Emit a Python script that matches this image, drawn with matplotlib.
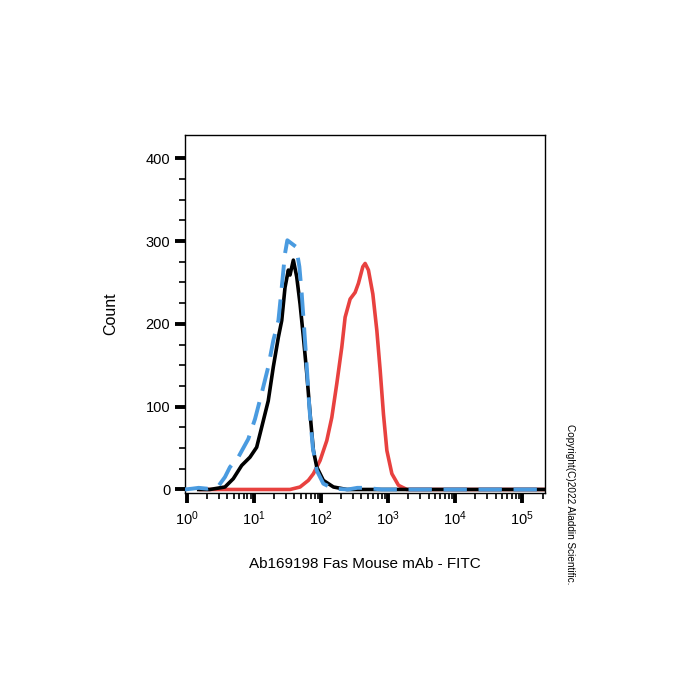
import numpy as np
import matplotlib.pyplot as plt
from matplotlib.ticker import FixedLocator, LogLocator, NullFormatter

plt.rcParams['font.family'] = ['Liberation Sans', 'DejaVu Sans']
plt.rcParams['mathtext.fontset'] = 'custom'
plt.rcParams['mathtext.rm'] = 'Liberation Sans'

# black solid histogram (isotype / unstained)
black_x = [1.5, 2.2, 3.69, 4.91, 6.55, 8.71, 10.96, 13.0, 16.3, 19.4, 23.1, 25.9, 29.0,
           32.5, 34.4, 38.6, 43.3, 48.6, 54.5, 61.2, 68.6, 76.8, 86.3, 108, 153, 242, 2.2e5]
black_y = [0, 0, 3, 13, 29, 39, 51, 75, 107, 148, 184, 204, 244,
           265, 259, 277, 257, 224, 184, 140, 91, 47, 27, 11, 3, 0, 0]

# blue dashed histogram
blue_x = [0.93, 1.2, 1.5, 2.0, 3.0, 3.69, 4.38, 5.83, 8.22, 10.35, 13.0, 16.3, 19.4, 23.1, 25.9,
          29.0, 31.4, 36.5, 42.4, 47.5, 51.5, 55.8, 61.2, 66.9, 75.2, 86.3, 108, 153,
          250, 347, 450, 600, 800, 2.2e5]
blue_y = [0, 1, 2, 1, 5, 15, 27, 39, 61, 85, 116, 148, 180, 204, 244,
          285, 301, 297, 293, 269, 236, 196, 148, 99, 51, 23, 7, 1,
          0, 2, 2, 1, 0, 0]

# red solid histogram (Fas mAb - FITC)
red_x = [1.6, 34.5, 48.6, 64.6, 76.8, 96.6, 121.6, 144.5, 171.6, 203.7, 228.2, 271, 321.7,
         360.5, 419, 453.7, 508, 591, 678, 760, 851, 957, 1136, 1426, 1901, 2.2e5]
red_y = [0, 0, 3, 11, 19, 35, 59, 87, 128, 172, 208, 230, 238,
         249, 269, 273, 265, 236, 192, 144, 91, 47, 19, 5, 0, 0]

fig = plt.figure(figsize=(7, 7), dpi=100)
ax = fig.add_axes([0.264, 0.296, 0.515, 0.511])

ax.plot(black_x, black_y, color='black', lw=2.6, zorder=3)
ax.plot(red_x, red_y, color='#e8413f', lw=2.6, zorder=2)
ax.plot(blue_x, blue_y, color='#4a9be0', lw=2.8, ls=(0, (6, 3)), zorder=4)

ax.set_xscale('log')
ax.set_xlim(0.93, 2.2e5)
ax.set_ylim(-4, 428)

ax.xaxis.set_major_locator(FixedLocator([1, 10, 100, 1e3, 1e4, 1e5]))
ax.xaxis.set_minor_locator(LogLocator(base=10, subs=np.arange(2, 10), numticks=20))
ax.xaxis.set_minor_formatter(NullFormatter())
ax.yaxis.set_major_locator(FixedLocator([0, 100, 200, 300, 400]))
ax.yaxis.set_minor_locator(FixedLocator([25, 50, 75, 125, 150, 175, 225, 250, 275, 325, 350, 375]))

ax.tick_params(axis='both', which='major', direction='out', length=7, width=2.8,
               labelsize=10.5, color='black')
ax.tick_params(axis='both', which='minor', direction='out', length=4, width=1.2)
ax.tick_params(axis='x', which='major', pad=5)

for s in ax.spines.values():
    s.set_linewidth(1.0)

ax.set_ylabel('Count', fontsize=11.5, labelpad=20)
ax.set_xlabel('Ab169198 Fas Mouse mAb - FITC', fontsize=11, labelpad=21)

fig.text(0.814, 0.279, 'Copyright(C)2022 Aladdin Scientific.', rotation=-90,
         fontsize=7.2, ha='center', va='center')

fig.savefig('out.png', dpi=100)
